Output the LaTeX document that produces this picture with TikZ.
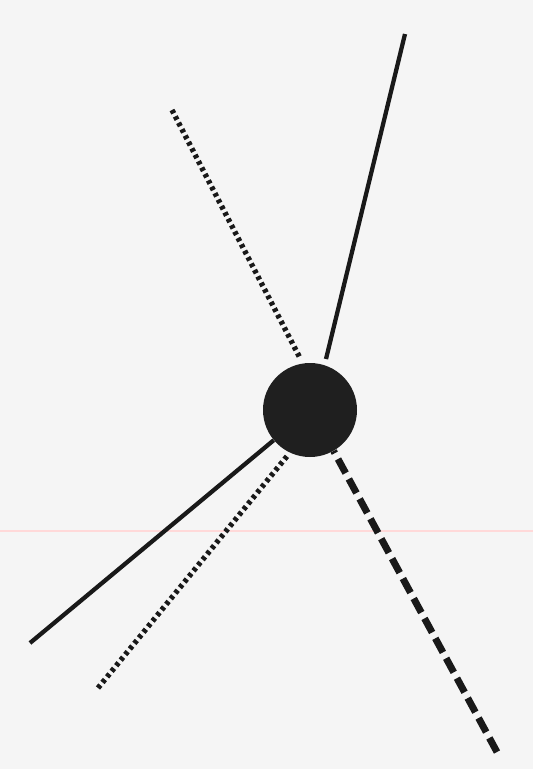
\documentclass[tikz,border=0pt]{standalone}
\begin{document}
\begin{tikzpicture}[x=0.75pt,y=-0.75pt,
  solidline/.style={line width=3.2pt,black!90},
  dotline/.style={line width=4pt,black!90,dash pattern=on 2.8pt off 2.6pt},
  dashline/.style={line width=5.2pt,black!90,dash pattern=on 12pt off 5pt}]
\fill[gray!8] (0,0) rectangle (533,769);
\useasboundingbox (0,0) rectangle (533,769);
\draw[red!15,line width=1pt] (0,531) -- (533,531);
\node[circle,fill=black!88,minimum size=70.5pt,inner sep=0pt] (c) at (310,410) {};
\coordinate (a1) at (405,34);
\coordinate (a2) at (326,359);
\coordinate (b1) at (172,110);
\coordinate (b2) at (300,358);
\coordinate (d1) at (30,643);
\coordinate (e1) at (98,688);
\coordinate (e2) at (288,455);
\coordinate (f1) at (497,752);
\draw[solidline] (a1) -- (a2);
\draw[dotline] (b1) -- (b2);
\draw[solidline] (d1) -- (c);
\draw[dotline] (e1) -- (e2);
\draw[dashline] (f1) -- (c.300);
\end{tikzpicture}
\end{document}
